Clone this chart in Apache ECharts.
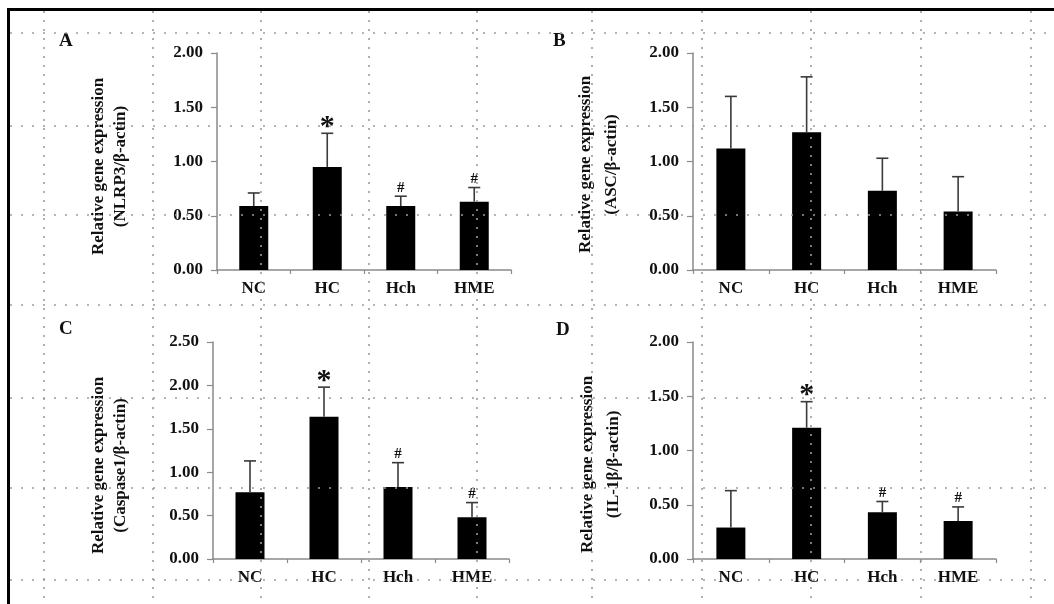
<!DOCTYPE html>
<html>
<head>
<meta charset="utf-8">
<script src="https://cdn.jsdelivr.net/npm/echarts@6/dist/echarts.min.js"></script>
<style>
html,body{margin:0;padding:0;background:#fff;}
#chart{width:1054px;height:604px;}
</style>
</head>
<body>
<div id="chart"></div>
<script>
// ---------- data ----------
const categories = ['NC', 'HC', 'Hch', 'HME'];

const meanA = [0.59, 0.95, 0.59, 0.63];
const sdA   = [0.12, 0.31, 0.09, 0.13];
const marksA = ['', '*', '#', '#'];

const meanB = [1.12, 1.27, 0.73, 0.54];
const sdB   = [0.48, 0.51, 0.30, 0.32];
const marksB = ['', '', '', ''];

const meanC = [0.77, 1.64, 0.83, 0.48];
const sdC   = [0.36, 0.34, 0.28, 0.17];
const marksC = ['', '*', '#', '#'];

const meanD = [0.29, 1.21, 0.43, 0.35];
const sdD   = [0.34, 0.24, 0.10, 0.13];
const marksD = ['', '*', '#', '#'];

const ticksA = [0, 0.5, 1.0, 1.5, 2.0];
const ticksB = [0, 0.5, 1.0, 1.5, 2.0];
const ticksC = [0, 0.5, 1.0, 1.5, 2.0, 2.5];
const ticksD = [0, 0.5, 1.0, 1.5, 2.0];

const panelLetters = ['A', 'B', 'C', 'D'];
const yTitles = [
  'Relative gene expression\n(NLRP3/β-actin)',
  'Relative gene expression\n(ASC/β-actin)',
  'Relative gene expression\n(Caspase1/β-actin)',
  'Relative gene expression\n(IL-1β/β-actin)'
];

// ---------- layout ----------
const SERIF = '"Liberation Serif","Times New Roman",serif';
const panels = [
  {mean: meanA, sd: sdA, marks: marksA, ticks: ticksA, grid: {left: 217, top: 53, width: 294, height: 217}, gap: 85, lh: 22, pad: 10, letter: {left: 59, top: 32}},
  {mean: meanB, sd: sdB, marks: marksB, ticks: ticksB, grid: {left: 693, top: 53, width: 303, height: 217}, gap: 68, lh: 26, pad: 6,  letter: {left: 553, top: 32}},
  {mean: meanC, sd: sdC, marks: marksC, ticks: ticksC, grid: {left: 213, top: 342, width: 296, height: 217}, gap: 81, lh: 22, pad: 30, letter: {left: 59, top: 320}},
  {mean: meanD, sd: sdD, marks: marksD, ticks: ticksD, grid: {left: 693, top: 342, width: 303, height: 217}, gap: 66, lh: 26, pad: 28, letter: {left: 556, top: 321}}
];

const grids = [], xAxes = [], yAxes = [], series = [], titles = [];

panels.forEach((p, i) => {
  grids.push(Object.assign({containLabel: false}, p.grid));
  xAxes.push({
    type: 'category', gridIndex: i, data: categories,
    axisLine: {lineStyle: {color: '#8a8a8a', width: 1.5}},
    axisTick: {show: true, length: 4, lineStyle: {color: '#8a8a8a', width: 1.2}},
    axisLabel: {fontFamily: SERIF, fontWeight: 'bold', fontSize: 17, color: '#111', margin: 10}
  });
  const tk = p.ticks;
  yAxes.push({
    type: 'value', gridIndex: i, min: tk[0], max: tk[tk.length - 1], interval: tk[1] - tk[0],
    name: yTitles[i], nameLocation: 'middle', nameGap: p.gap, nameRotate: 90,
    nameTextStyle: {fontFamily: SERIF, fontWeight: 'bold', fontSize: 17, color: '#111', lineHeight: p.lh, align: 'center', padding: [0, p.pad, 0, 0]},
    axisLine: {show: true, lineStyle: {color: '#8a8a8a', width: 1.5}},
    axisTick: {show: true, length: 6, lineStyle: {color: '#8a8a8a', width: 1.2}},
    splitLine: {show: false},
    axisLabel: {fontFamily: SERIF, fontWeight: 'bold', fontSize: 17, color: '#111', margin: 14,
      formatter: v => v.toFixed(2)}
  });
  series.push({
    type: 'bar', xAxisIndex: i, yAxisIndex: i, data: p.mean, barWidth: 29,
    itemStyle: {color: '#000'}, z: 2, silent: true
  });
  const marks = p.marks;
  series.push({
    type: 'custom', xAxisIndex: i, yAxisIndex: i, z: 3, silent: true,
    data: p.mean.map((m, j) => [j, m, p.sd[j]]),
    encode: {x: 0, y: 1},
    renderItem: function (params, api) {
      const x = api.value(0), m = api.value(1), s = api.value(2);
      const base = api.coord([x, m]);
      const top = api.coord([x, m + s]);
      const cap = 6;
      const st = {stroke: '#3a3a3a', lineWidth: 1.6};
      const children = [
        {type: 'line', shape: {x1: base[0], y1: base[1], x2: top[0], y2: top[1]}, style: st},
        {type: 'line', shape: {x1: top[0] - cap, y1: top[1], x2: top[0] + cap, y2: top[1]}, style: st}
      ];
      const mk = marks[params.dataIndex];
      if (mk === '*') {
        children.push({type: 'text', style: {text: mk, x: top[0], y: top[1] - 6, align: 'center', verticalAlign: 'middle',
          font: 'bold 30px ' + SERIF, fill: '#111'}});
      } else if (mk) {
        children.push({type: 'text', style: {text: mk, x: top[0], y: top[1] - 1, align: 'center', verticalAlign: 'bottom',
          font: 'bold 15px ' + SERIF, fill: '#111'}});
      }
      return {type: 'group', children: children};
    }
  });
  titles.push({text: panelLetters[i], left: p.letter.left, top: p.letter.top, padding: 0,
    textStyle: {fontFamily: SERIF, fontWeight: 'bold', fontSize: 19, color: '#111'}});
});

// decorative frame and dotted overlay grid
const vLines = [44, 153, 261, 369, 477, 592, 702, 811, 921, 1031];
const hLines = [33, 126, 215, 305, 398, 488, 580];
const graphics = [];
const dotStyle = {stroke: '#9c9c9c', lineWidth: 1.6};
vLines.forEach(x => graphics.push({type: 'line', z: 100, silent: true,
  shape: {x1: x, y1: 11, x2: x, y2: 604}, style: Object.assign({lineDash: [2, 7]}, dotStyle)}));
hLines.forEach(y => graphics.push({type: 'line', z: 100, silent: true,
  shape: {x1: 10, y1: y, x2: 1054, y2: y}, style: Object.assign({lineDash: [2, 9]}, dotStyle)}));
graphics.push({type: 'line', z: 101, silent: true, shape: {x1: 7, y1: 9.5, x2: 1054, y2: 9.5}, style: {stroke: '#000', lineWidth: 3}});
graphics.push({type: 'line', z: 101, silent: true, shape: {x1: 8.5, y1: 8, x2: 8.5, y2: 604}, style: {stroke: '#000', lineWidth: 3}});

const chart = echarts.init(document.getElementById('chart'), null, {renderer: 'canvas'});
chart.setOption({
  backgroundColor: '#fff',
  animation: false,
  title: titles,
  grid: grids,
  xAxis: xAxes,
  yAxis: yAxes,
  series: series,
  graphic: graphics
});
</script>
</body>
</html>
